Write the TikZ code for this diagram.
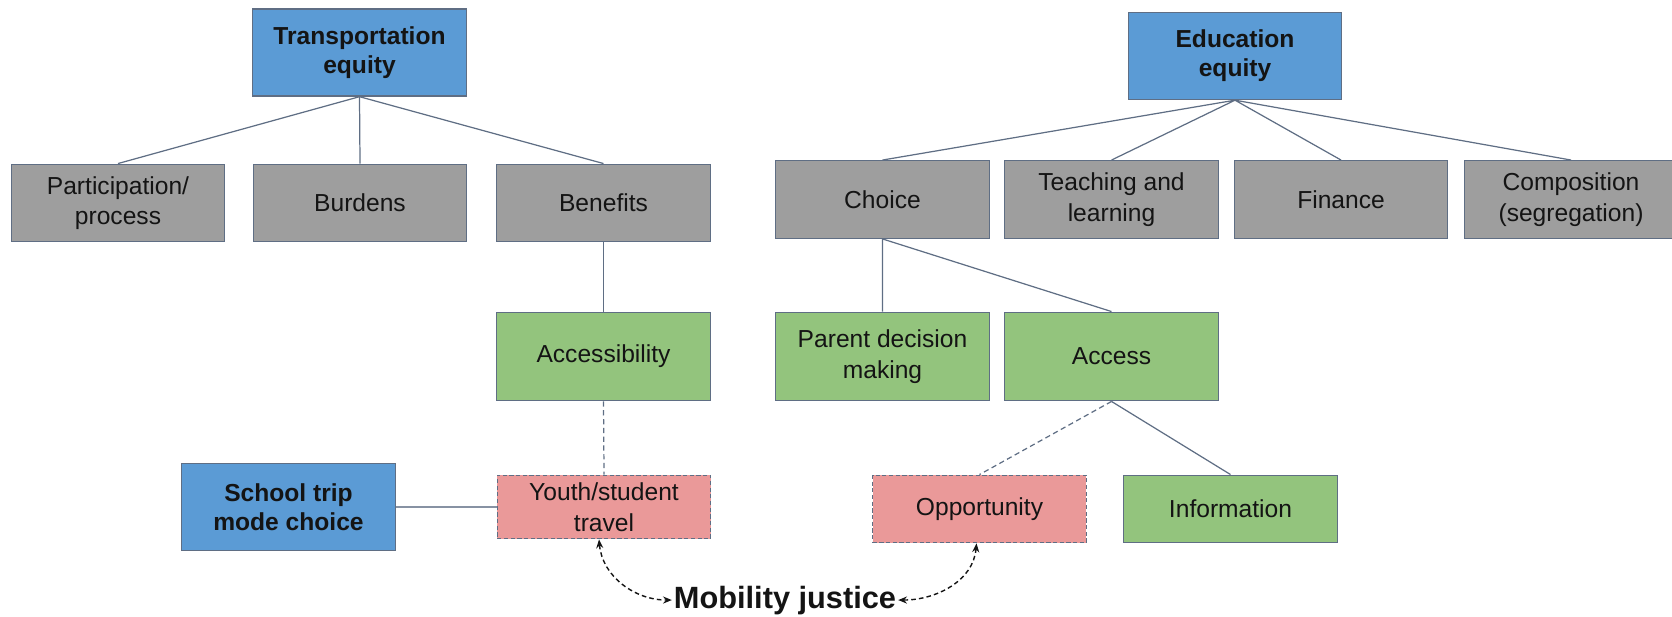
\documentclass[tikz,border=0pt]{standalone}
\usepackage{fontspec}
\setmainfont{Liberation Sans}
\usetikzlibrary{arrows.meta}
\definecolor{boxblue}{HTML}{5B9BD5}
\definecolor{boxgray}{HTML}{9E9E9E}
\definecolor{boxgreen}{HTML}{93C47D}
\definecolor{boxpink}{HTML}{EA9999}
\definecolor{edgeclr}{HTML}{5F6E84}
\definecolor{inkclr}{HTML}{141414}
\def\boxw{4.27cm}
\tikzset{
  bx/.style={draw=edgeclr, line width=0.8pt, minimum width=\boxw, align=center, inner sep=2pt, text=inkclr, font=\fontsize{14}{17.4}\selectfont},
  mainbox/.style={bx, fill=boxblue, minimum height=1.74cm, font=\fontsize{14}{16.6}\selectfont\bfseries},
  catbox/.style={bx, fill=boxgray, minimum height=1.55cm},
  subbox/.style={bx, fill=boxgreen, minimum height=1.77cm},
  gapbox/.style={bx, fill=boxpink, dash pattern=on 2.4pt off 1.4pt},
  link/.style={draw=edgeclr, line width=0.7pt},
  dlink/.style={link, dash pattern=on 3pt off 2pt},
  mjarrow/.style={draw=inkclr, line width=0.8pt, dash pattern=on 2.6pt off 1.8pt, {Stealth[length=5pt,width=4pt]}-{Stealth[length=5pt,width=4pt]}}
}

\begin{document}
\begin{tikzpicture}[x=0.02cm, y=-0.02cm]
\useasboundingbox (0,0) rectangle (1672,617);
% transportation side
\node[mainbox] (te) at (359.5,52.5) {Transportation\\equity};
\node[catbox] (part) at (118,203) {Participation/\\process};
\node[catbox] (burd) at (360,203) {Burdens};
\node[catbox] (bene) at (603.5,203) {Benefits};
\node[subbox] (accs) at (603.5,356.5) {Accessibility};
\node[gapbox, minimum height=1.27cm] (yth) at (604,507) {Youth/student\\travel};
\node[mainbox, minimum height=1.75cm] (sch) at (288.5,507) {School trip\\mode choice};
% education side
\node[mainbox] (ee) at (1235,56) {Education\\equity};
\node[catbox] (choi) at (882.5,199.5) {Choice};
\node[catbox] (teach) at (1111.5,199.5) {Teaching and\\learning};
\node[catbox] (fin) at (1341,199.5) {Finance};
\node[catbox] (comp) at (1571,199.5) {Composition\\(segregation)};
\node[subbox] (par) at (882.5,356.5) {Parent decision\\making};
\node[subbox] (axs) at (1111.5,356.5) {Access};
\node[gapbox, minimum height=1.35cm] (opp) at (979.5,509) {Opportunity};
\node[bx, fill=boxgreen, minimum height=1.35cm] (inf) at (1230.5,509) {Information};
\node[anchor=base, inner sep=1pt, text=inkclr, font=\fontsize{17.5}{20}\selectfont\bfseries] (mob) at (785,608) {Mobility justice};

\draw[link] (te.south) -- (part.north) (te.south) -- (burd.north) (te.south) -- (bene.north);
\draw[link] (ee.south) -- (choi.north) (ee.south) -- (teach.north) (ee.south) -- (fin.north) (ee.south) -- (comp.north);
\draw[link] (bene.south) -- (accs.north);
\draw[link] (choi.south) -- (par.north) (choi.south) -- (axs.north);
\draw[link] (axs.south) -- (inf.north);
\draw[dlink] (accs.south) -- (yth.north);
\draw[dlink] (axs.south) -- (opp.north);
\draw[link, draw=edgeclr!75, line width=1.1pt] (sch.east) -- (yth.west);
\draw[mjarrow] ([xshift=-0.1cm]yth.south) to[out=-85,in=180] (mob.west);
\draw[mjarrow] (mob.east) to[out=0,in=-95] ([xshift=-0.06cm]opp.south);
\end{tikzpicture}
\end{document}
